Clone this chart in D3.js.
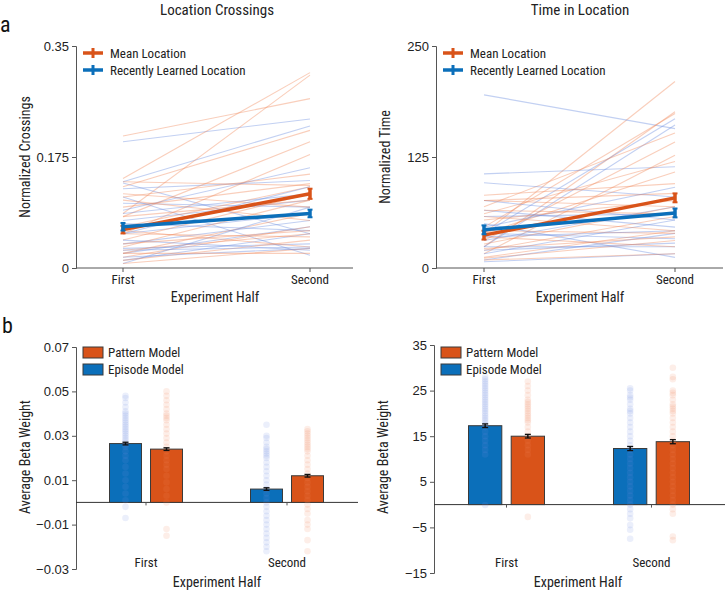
<!DOCTYPE html>
<html><head><meta charset="utf-8">
<script src="https://cdn.jsdelivr.net/npm/d3@7"></script>
<style>
body{margin:0;background:#fff;}
svg{display:block;font-family:'Liberation Sans Narrow','Roboto Condensed','Arial Narrow',Roboto,sans-serif;}
</style></head>
<body><svg id="c" width="726" height="591"></svg>
<script>
// ---------- DATA ----------
const halves = ["First", "Second"];
const lineLegend = ["Mean Location", "Recently Learned Location"];
const barLegend = ["Pattern Model", "Episode Model"];
const models = ["Episode", "Pattern"];

// Panel a-left: Location Crossings, individual participants [first, second]
const crossMean = [[0.208,0.267],[0.141,0.308],[0.086,0.304],[0.128,0.217],[0.081,0.199],[0.054,0.179],
  [0.112,0.148],[0.096,0.133],[0.065,0.128],[0.044,0.117],[0.033,0.107],[0.023,0.086],[0.017,0.065],
  [0.028,0.054],[0.012,0.044],[0.059,0.033],[0.107,0.075],[0.117,0.096],[0.038,0.059],[0.007,0.031],
  [0.023,0.023],[0.054,0.049],[0.081,0.107],[0.136,0.130]];
const crossRecent = [[0.199,0.235],[0.136,0.224],[0.134,0.054],[0.125,0.138],[0.112,0.020],[0.091,0.158],
  [0.102,0.096],[0.075,0.107],[0.054,0.086],[0.038,0.075],[0.023,0.065],[0.012,0.054],[0.007,0.096],
  [0.031,0.038],[0.044,0.028],[0.070,0.059],[0.086,0.117],[0.028,0.033],[0.054,0.128],[0.017,0.031]];
const crossMeanAvg = [0.0605, 0.117], crossMeanErr = [0.006, 0.008];
const crossRecentAvg = [0.065, 0.086], crossRecentErr = [0.006, 0.006];

// Panel a-right: Time in Location
const timeMean = [[39,210],[24,176],[46,174],[69,152],[31,142],[16,127],[61,120],[39,108],[82,95],[76,84],
  [54,76],[27,69],[20,58],[12,42],[42,39],[11,31],[65,61],[35,24],[9,16],[22,35],[58,42],[76,69]];
const timeRecent = [[195,157],[39,168],[24,161],[106,114],[96,80],[46,91],[31,69],[58,61],[16,54],[9,39],
  [39,33],[24,24],[7,16],[65,46],[76,54],[20,28],[50,12],[35,42]];
const timeMeanAvg = [37, 79], timeMeanErr = [5, 5];
const timeRecentAvg = [43, 62], timeRecentErr = [5, 5];

// Panel b-left: beta weights (Location Crossings)
const crossEpisodeBar = [0.0265, 0.006], crossEpisodeErr = [0.0006, 0.0006];
const crossPatternBar = [0.024, 0.012], crossPatternErr = [0.0006, 0.0006];
const crossEpisodeDots = [
  [0.048,0.047,0.045,0.043,0.041,0.040,0.039,0.038,0.037,0.036,0.035,0.034,0.033,0.032,0.031,0.030,0.029,0.028,0.027,0.026,0.025,0.023,0.021,0.019,0.016,0.013,0.010,0.007,0.004,0.001,-0.002,-0.007],
  [0.035,0.030,0.029,0.027,0.025,0.024,0.023,0.022,0.021,0.020,0.018,0.016,0.014,0.012,0.010,0.008,0.006,0.004,0.002,0.000,-0.002,-0.004,-0.006,-0.008,-0.010,-0.012,-0.014,-0.016,-0.018,-0.020,-0.022]];
const crossPatternDots = [
  [0.050,0.048,0.046,0.044,0.042,0.040,0.039,0.038,0.037,0.035,0.033,0.031,0.029,0.027,0.025,0.023,0.021,0.019,0.017,0.015,0.012,0.009,0.006,0.003,0.000,-0.012,-0.015],
  [0.033,0.032,0.031,0.030,0.029,0.028,0.027,0.026,0.025,0.024,0.023,0.021,0.019,0.017,0.015,0.013,0.011,0.009,0.007,0.005,0.003,0.001,-0.001,-0.003,-0.005,-0.008,-0.010,-0.012,-0.017,-0.022]];

// Panel b-right: beta weights (Time in Location)
const timeEpisodeBar = [17.3, 12.3], timeEpisodeErr = [0.4, 0.45];
const timePatternBar = [15.0, 13.8], timePatternErr = [0.4, 0.45];
const timeEpisodeDots = [
  [28,27.5,27,26.5,26,25.5,25,24.5,24,23.5,23,22.5,22,21.5,21,20.5,20,19.5,19,18.5,18,17.5,17,16,15,14,13,12,11,-0.1],
  [25.5,25,24,23.5,23,22,21,20.5,20,19,18,17,16,15,14,13,12,11,10,9,8,7,6,5,4,3,2,1,0,-1,-2,-3,-4.5,-5.5,-7.5]];
const timePatternDots = [
  [27,26,25,24,23,22.5,22,21.5,21,20.5,20,19.5,19,18.5,18,17,16,15,14,13,12,11,-2.7],
  [30,28,27.5,25,24.5,24,23,22,21.5,21,20.5,20,19,18,17,16,15,14,13,12,11,10,9,8,7,6,5,4,3,2,1,0,-1,-2,-7,-7.8]];

// ---------- STYLE ----------
const ORANGE = "#D95319", BLUE = "#0B6FBA";
const ORANGE_L = "#F08A5D", BLUE_L = "#6E90E0";
const AXIS = "#555";
const svg = d3.select("#c");

function yAxisDraw(g, y, ticks, fmt) {
  const ax = d3.axisLeft(y).tickValues(ticks).tickSize(4).tickPadding(3).tickFormat(fmt);
  g.call(ax);
  g.select(".domain").attr("stroke", AXIS);
  g.selectAll(".tick line").attr("stroke", AXIS);
  g.selectAll(".tick text").attr("fill", "#222").style("font-size", "13px").style("font-family", "inherit");
}

function linePanel(opt) {
  const g = svg.append("g");
  const x = d3.scalePoint().domain(halves).range(opt.xr);
  const y = d3.scaleLinear().domain(opt.yd).range([268, 46]);
  // title
  g.append("text").attr("x", opt.tx).attr("y", 15).attr("text-anchor", "middle")
    .style("font-size", "15px").attr("fill", "#222").text(opt.title);
  // y axis
  const ya = g.append("g").attr("transform", `translate(${opt.ax},0)`);
  yAxisDraw(ya, y, opt.ticks, opt.fmt);
  // x axis line
  g.append("line").attr("x1", opt.ax).attr("x2", opt.xend).attr("y1", y(0)).attr("y2", y(0)).attr("stroke", AXIS);
  halves.forEach(h => {
    g.append("line").attr("x1", x(h)).attr("x2", x(h)).attr("y1", y(0)).attr("y2", y(0) + 4).attr("stroke", AXIS);
    g.append("text").attr("x", x(h)).attr("y", 284).attr("text-anchor", "middle").style("font-size", "13px").attr("fill", "#222").text(h);
  });
  g.append("text").attr("x", opt.xlx).attr("y", 302).attr("text-anchor", "middle").style("font-size", "14px").attr("fill", "#222").text("Experiment Half");
  g.append("text").attr("transform", `translate(${opt.ax - 46},157) rotate(-90)`).attr("text-anchor", "middle")
    .style("font-size", "14px").attr("fill", "#222").text(opt.ylabel);
  // individual lines
  const ln = d3.line().x((d, i) => x(halves[i])).y(d => y(d));
  const pairs = [];
  const n = Math.max(opt.mean.length, opt.recent.length);
  for (let i = 0; i < n; i++) {
    if (i < opt.mean.length) pairs.push({ d: opt.mean[i], c: ORANGE_L });
    if (i < opt.recent.length) pairs.push({ d: opt.recent[i], c: BLUE_L });
  }
  g.append("g").selectAll("path").data(pairs).join("path")
    .attr("d", p => ln(p.d)).attr("fill", "none").attr("stroke", p => p.c)
    .attr("stroke-opacity", 0.42).attr("stroke-width", 1.1);
  // mean lines with error bars
  [[opt.meanAvg, opt.meanErr, ORANGE], [opt.recentAvg, opt.recentErr, BLUE]].forEach(([avg, err, c]) => {
    g.append("path").attr("d", ln(avg)).attr("fill", "none").attr("stroke", c).attr("stroke-width", 3.5);
    avg.forEach((v, i) => {
      const xx = x(halves[i]);
      g.append("line").attr("x1", xx).attr("x2", xx).attr("y1", y(v - err[i])).attr("y2", y(v + err[i]))
        .attr("stroke", c).attr("stroke-width", 3.5);
      [v - err[i], v + err[i]].forEach(e => g.append("line").attr("x1", xx - 2.5).attr("x2", xx + 2.5)
        .attr("y1", y(e)).attr("y2", y(e)).attr("stroke", c).attr("stroke-width", 2));
    });
  });
  // legend
  [[lineLegend[0], ORANGE, 53], [lineLegend[1], BLUE, 70]].forEach(([t, c, yy]) => {
    const lx = opt.ax + 7;
    g.append("line").attr("x1", lx).attr("x2", lx + 20).attr("y1", yy).attr("y2", yy).attr("stroke", c).attr("stroke-width", 3.5);
    g.append("line").attr("x1", lx + 10).attr("x2", lx + 10).attr("y1", yy - 5).attr("y2", yy + 5).attr("stroke", c).attr("stroke-width", 3);
    g.append("text").attr("x", lx + 27).attr("y", yy + 4.5).style("font-size", "13px").attr("fill", "#222").text(t);
  });
}

function barPanel(opt) {
  const g = svg.append("g");
  const x0 = d3.scalePoint().domain(halves).range(opt.xr);
  const x1 = d3.scaleBand().domain(models).range([-opt.hw, opt.hw]).paddingInner(0.22);
  const y = d3.scaleLinear().domain(opt.yd).range(opt.yr);
  const ya = g.append("g").attr("transform", `translate(${opt.ax},0)`);
  yAxisDraw(ya, y, opt.ticks, opt.fmt);
  g.append("line").attr("x1", opt.ax).attr("x2", opt.xend).attr("y1", y(0)).attr("y2", y(0)).attr("stroke", "#333");
  halves.forEach(h => {
    g.append("line").attr("x1", x0(h)).attr("x2", x0(h)).attr("y1", y(0)).attr("y2", y(0) + 3).attr("stroke", AXIS);
    g.append("text").attr("x", x0(h)).attr("y", 567).attr("text-anchor", "middle").style("font-size", "13px").attr("fill", "#222").text(h);
  });
  g.append("text").attr("x", opt.xlx).attr("y", 587).attr("text-anchor", "middle").style("font-size", "14px").attr("fill", "#222").text("Experiment Half");
  g.append("text").attr("transform", `translate(${opt.ax - 46},457) rotate(-90)`).attr("text-anchor", "middle")
    .style("font-size", "14px").attr("fill", "#222").text("Average Beta Weight");
  const series = [
    { m: "Episode", bar: opt.epBar, err: opt.epErr, dots: opt.epDots, c: BLUE, dc: BLUE_L },
    { m: "Pattern", bar: opt.paBar, err: opt.paErr, dots: opt.paDots, c: ORANGE, dc: ORANGE_L }];
  series.forEach(s => {
    halves.forEach((h, i) => {
      const bx = x0(h) + x1(s.m);
      const v = s.bar[i];
      g.append("rect").attr("x", bx).attr("width", x1.bandwidth())
        .attr("y", y(Math.max(0, v))).attr("height", Math.abs(y(v) - y(0)))
        .attr("fill", s.c).attr("stroke", "#3a3a3a").attr("stroke-width", 1);
    });
  });
  series.forEach(s => {
    halves.forEach((h, i) => {
      const cx = x0(h) + x1(s.m) + x1.bandwidth() / 2;
      g.append("g").selectAll("circle").data(s.dots[i]).join("circle")
        .attr("cx", cx).attr("cy", d => y(d)).attr("r", 3.3)
        .attr("fill", s.dc).attr("fill-opacity", 0.14);
      const v = s.bar[i], e = s.err[i];
      g.append("line").attr("x1", cx).attr("x2", cx).attr("y1", y(v - e)).attr("y2", y(v + e)).attr("stroke", "#111").attr("stroke-width", 1.5);
      [v - e, v + e].forEach(ev => g.append("line").attr("x1", cx - 3).attr("x2", cx + 3).attr("y1", y(ev)).attr("y2", y(ev)).attr("stroke", "#111").attr("stroke-width", 1.3));
    });
  });
  // legend
  [[barLegend[0], ORANGE, 347], [barLegend[1], BLUE, 364]].forEach(([t, c, yy]) => {
    const lx = opt.ax + 7;
    g.append("rect").attr("x", lx).attr("y", yy).attr("width", 20).attr("height", 11).attr("fill", c).attr("stroke", "#3a3a3a");
    g.append("text").attr("x", lx + 25).attr("y", yy + 10).style("font-size", "13px").attr("fill", "#222").text(t);
  });
}

// panel letters
svg.append("text").attr("x", 0).attr("y", 32).style("font-size", "22px").attr("fill", "#111").text("a");
svg.append("text").attr("x", 2).attr("y", 333).style("font-size", "22px").attr("fill", "#111").text("b");

linePanel({ title: "Location Crossings", tx: 217, ax: 76, xend: 353, xr: [123, 310], xlx: 215, yd: [0, 0.35],
  ticks: [0, 0.175, 0.35], fmt: d => d === 0 ? "0" : String(d), ylabel: "Normalized Crossings",
  mean: crossMean, recent: crossRecent, meanAvg: crossMeanAvg, meanErr: crossMeanErr,
  recentAvg: crossRecentAvg, recentErr: crossRecentErr });
linePanel({ title: "Time in Location", tx: 580, ax: 436, xend: 723, xr: [484, 675], xlx: 580, yd: [0, 250],
  ticks: [0, 125, 250], fmt: d => String(d), ylabel: "Normalized Time",
  mean: timeMean, recent: timeRecent, meanAvg: timeMeanAvg, meanErr: timeMeanErr,
  recentAvg: timeRecentAvg, recentErr: timeRecentErr });

const minus = d => (d < 0 ? "\u2212" + String(Math.abs(d)) : String(d));
barPanel({ ax: 76, xend: 358, xr: [146, 287], hw: 36.5, yd: [-0.03, 0.07], yr: [569, 347], xlx: 217,
  ticks: [-0.03, -0.01, 0.01, 0.03, 0.05, 0.07], fmt: d => minus(+d.toFixed(2)).replace(/^(\u2212?)0\./, "$10.").replace(/(\.\d)$/, "$10"),
  epBar: crossEpisodeBar, epErr: crossEpisodeErr, paBar: crossPatternBar, paErr: crossPatternErr,
  epDots: crossEpisodeDots, paDots: crossPatternDots });
barPanel({ ax: 434, xend: 725, xr: [506.5, 651.5], hw: 38, yd: [-15, 35], yr: [573, 345], xlx: 578,
  ticks: [-15, -5, 5, 15, 25, 35], fmt: minus,
  epBar: timeEpisodeBar, epErr: timeEpisodeErr, paBar: timePatternBar, paErr: timePatternErr,
  epDots: timeEpisodeDots, paDots: timePatternDots });
</script></body></html>
